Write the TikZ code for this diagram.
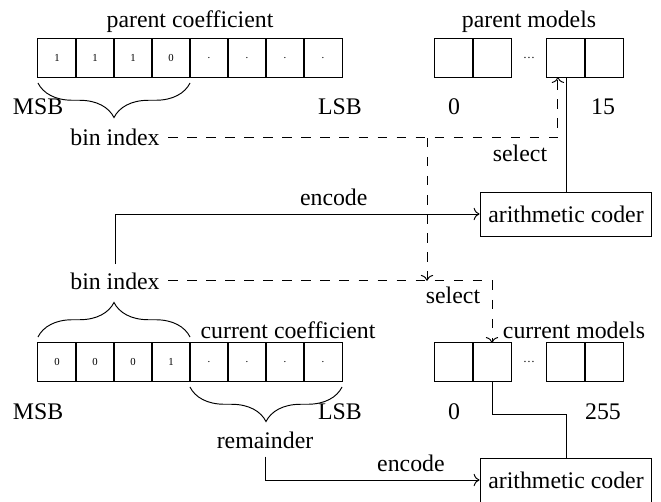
\documentclass[tikz,border=0pt]{standalone}
\usepackage{fontspec}
\setmainfont{Liberation Serif}
\usetikzlibrary{arrows.meta, positioning, decorations.pathreplacing}

\begin{document}
\begin{tikzpicture}[
      x=0.42pt, y=-0.42pt,
      bit/.style={rectangle, draw, minimum size=16pt, inner sep=0pt, outer sep=0pt, font=\fontsize{4.5}{5}\selectfont},
      model/.style={rectangle, draw, minimum size=16pt, inner sep=0pt, outer sep=0pt},
      coder/.style={rectangle, draw, minimum width=72.2pt, minimum height=18.5pt, inner sep=0pt},
      lbl/.style={anchor=base},
      arrow/.style={->},
      sel/.style={->, dash pattern=on 4pt off 4pt},
      brc/.style={decorate, decoration={brace, amplitude=14.5pt, raise=2.5pt}}
    ]
    \useasboundingbox (0,0) rectangle (661,502);

    % Bit cells
    \foreach \b [count=\i] in {1,1,1,0,.,.,.,.}
      \node[bit] (p\i) at (19+38*\i,58) {\b};
    \foreach \b [count=\i] in {0,0,0,1,.,.,.,.}
      \node[bit] (c\i) at (19+38*\i,362) {\b};

    % Model cells
    \foreach \x [count=\i] in {454,492,566,604} {
      \node[model] (pm\i) at (\x,58) {};
      \node[model] (cm\i) at (\x,362) {};
    }
    \node[font=\tiny] (pdots) at (529,58) {\dots};
    \node[font=\tiny] (cdots) at (529,362) {\dots};

    % Labels
    \node[lbl] (ptitle) at (190,28) {parent coefficient};
    \node[lbl] (pmtitle) at (529,28) {parent models};
    \node[lbl] (pmsb) at (38,115) {MSB};
    \node[lbl] (plsb) at (340,115) {LSB};
    \node[lbl] (pzero) at (454,115) {0};
    \node[lbl] (plast) at (603,115) {15};
    \node[lbl] (pbin) at (115,146) {bin index};
    \node[lbl] (psel) at (520,161) {select};
    \node[coder] (pcoder) at (566,214) {arithmetic coder};

    \node[lbl] (cbin) at (115,289) {bin index};
    \node[lbl] (csel) at (453,303) {select};
    \node[lbl] (ctitle) at (288,338) {current coefficient};
    \node[lbl] (cmtitle) at (574,338) {current models};
    \node[lbl] (cmsb) at (38,419) {MSB};
    \node[lbl] (clsb) at (340,419) {LSB};
    \node[lbl] (czero) at (454,419) {0};
    \node[lbl] (clast) at (603,419) {255};
    \node[lbl] (rem) at (265,448) {remainder};
    \node[coder] (ccoder) at (566,480) {arithmetic coder};

    % Braces
    \draw[brc, decoration={mirror}] (p1.south west) -- (p4.south east);
    \draw[brc] (c1.north west) -- (c4.north east);
    \draw[brc, decoration={mirror}] (c5.south west) -- (c8.south east);

    % Arrows
    \coordinate (fork) at (427,0);
    \draw[sel] (pbin.east) -| ([xshift=-3.4pt]pm3.south);
    \draw[sel] (pbin.east -| fork) -- (cbin.east -| fork);
    \draw[sel] (cbin.east) -| (cm2.north);

    \draw[arrow] (cbin.north) |- (pcoder.west) node[pos=0.8, above] (penc) {encode};
    \draw (pcoder.north) -- (pm3.south);

    \draw (cm2.south) -- ++(0,33) -| (ccoder.north);
    \draw[arrow] (rem.south) |- (ccoder.west) node[pos=0.84, above] (cenc) {encode};

\end{tikzpicture}
\end{document}
